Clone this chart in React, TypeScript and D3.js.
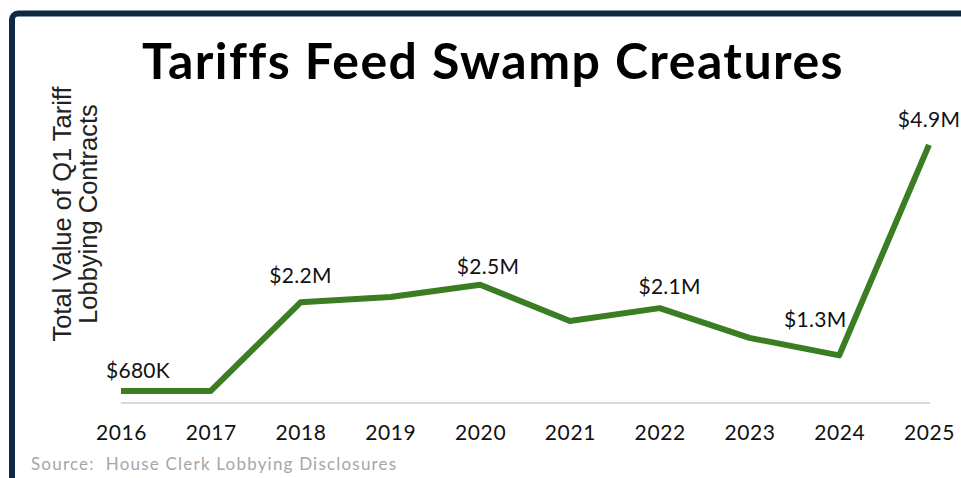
import React, { useEffect, useRef } from "react";
import * as d3 from "d3";

const years: string[] = ["2016", "2017", "2018", "2019", "2020", "2021", "2022", "2023", "2024", "2025"];
// total value in $M
const values: number[] = [0.68, 0.68, 2.2, 2.29, 2.5, 1.88, 2.1, 1.59, 1.29, 4.9];
const labels: (string | null)[] = ["$680K", null, "$2.2M", null, "$2.5M", null, "$2.1M", null, "$1.3M", "$4.9M"];

// label nudges (dx, dy from the point)
const labelNudge: [number, number][] = [
  [17, -13], [0, 0], [0, -19], [0, 0], [8, -11], [0, 0], [10, -14], [0, 0], [-24, -28], [0, -18],
];

const W = 961;
const H = 478;

const App: React.FC = () => {
  const svgRef = useRef<SVGSVGElement | null>(null);

  useEffect(() => {
    if (!svgRef.current) return;
    const svg = d3.select(svgRef.current);
    svg.selectAll("*").remove();

    const labelFont = "Lato, 'Open Sans', sans-serif";

    // frame
    svg.append("rect")
      .attr("x", 12).attr("y", 13.5)
      .attr("width", W + 40).attr("height", H + 40)
      .attr("rx", 6)
      .attr("fill", "none")
      .attr("stroke", "#0f2843")
      .attr("stroke-width", 6);

    // title
    svg.append("text")
      .attr("x", 493).attr("y", 79)
      .attr("text-anchor", "middle")
      .attr("font-family", labelFont)
      .attr("font-weight", 700)
      .attr("font-size", 50)
      .attr("letter-spacing", 1.45)
      .attr("fill", "#000")
      .text("Tariffs Feed Swamp Creatures");

    const x = d3.scalePoint<string>().domain(years).range([121, 929]);
    const y = d3.scaleLinear().domain([0, 5]).range([430.6, 139]);

    // baseline
    svg.append("line")
      .attr("x1", 121).attr("x2", 930)
      .attr("y1", 403).attr("y2", 403)
      .attr("stroke", "#d9d9d9")
      .attr("stroke-width", 2);

    // x axis labels
    const xAxis = svg.append("g")
      .attr("transform", "translate(0,403)")
      .call(d3.axisBottom(x).tickSize(0).tickPadding(22));
    xAxis.select(".domain").remove();
    xAxis.selectAll("text")
      .attr("font-family", labelFont)
      .attr("font-size", 21)
      .attr("letter-spacing", 0.6)
      .attr("fill", "#111");

    // y axis title
    const yt = svg.append("text")
      .attr("transform", "translate(0,214) rotate(-90)")
      .attr("text-anchor", "middle")
      .attr("font-family", "'Liberation Sans', Arial, sans-serif")
      .attr("font-size", 25.5)
      .attr("fill", "#222");
    yt.append("tspan").attr("x", 0).attr("y", 71).text("Total Value of Q1 Tariff");
    yt.append("tspan").attr("x", 0).attr("y", 97).text("Lobbying Contracts");

    // line
    const line = d3.line<number>()
      .x((_, i) => x(years[i])!)
      .y(d => y(d));
    svg.append("path")
      .datum(values)
      .attr("d", line)
      .attr("fill", "none")
      .attr("stroke", "#3b7d23")
      .attr("stroke-width", 6)
      .attr("stroke-linejoin", "round")
      .attr("stroke-linecap", "butt");

    // data labels
    svg.append("g")
      .selectAll("text")
      .data(values.map((v, i) => ({ v, i })).filter(d => labels[d.i]))
      .enter()
      .append("text")
      .attr("x", d => x(years[d.i])! + labelNudge[d.i][0])
      .attr("y", d => y(d.v) + labelNudge[d.i][1])
      .attr("text-anchor", "middle")
      .attr("font-family", labelFont)
      .attr("font-size", 21)
      .attr("letter-spacing", 0.3)
      .attr("fill", "#111")
      .text(d => labels[d.i]!);

    // source
    svg.append("text")
      .attr("x", 31).attr("y", 470)
      .attr("font-family", labelFont)
      .attr("font-size", 17)
      .attr("letter-spacing", 1.2)
      .attr("fill", "#a6a6a6")
      .attr("xml:space", "preserve")
      .style("white-space", "pre")
      .text("Source:  House Clerk Lobbying Disclosures");
  }, []);

  return (
    <svg
      ref={svgRef}
      width={W}
      height={H}
      style={{ position: "absolute", left: 0, top: 0, background: "#fff" }}
    />
  );
};

export default App;
